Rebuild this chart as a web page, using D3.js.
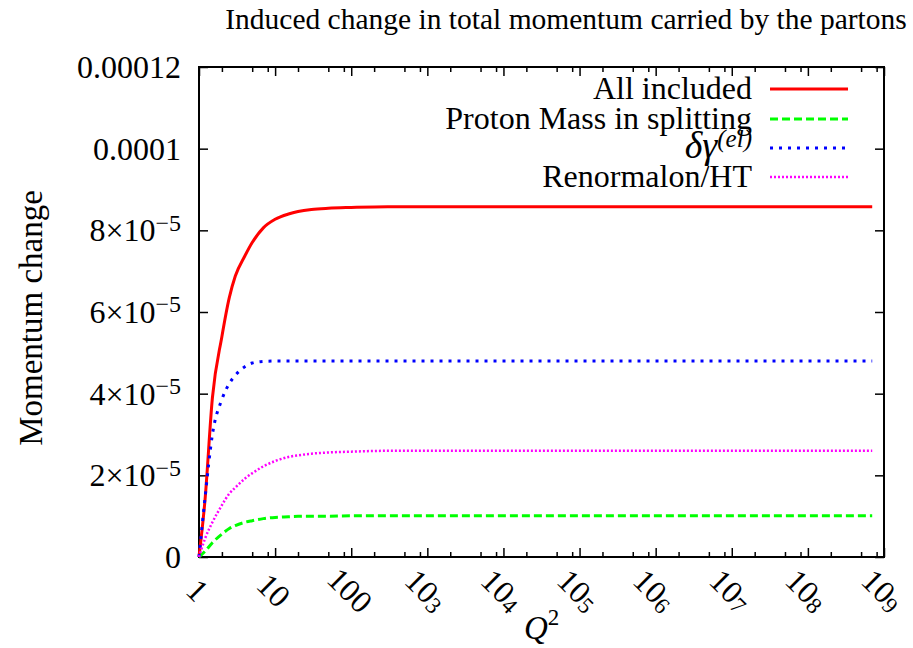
<!DOCTYPE html>
<html>
<head>
<meta charset="utf-8">
<script src="https://cdn.jsdelivr.net/npm/d3@7"></script>
<style>
  body { margin: 0; background: #fff; }
</style>
</head>
<body>
<svg id="chart"></svg>
<script>
// Q^2 grid the curves are read at
const q2 = [1, 1.2, 1.5, 2, 2.5, 3, 4, 5, 7, 10, 15, 20, 30, 50, 100, 300, 1e3, 1e4, 1e6, 1e8, 7e8];

// momentum change for each curve
const allIncluded = [0, 1.4e-5, 3.9e-5, 5.4e-5, 6.35e-5, 6.88e-5, 7.37e-5, 7.7e-5, 8.06e-5, 8.27e-5, 8.4e-5, 8.46e-5, 8.51e-5, 8.54e-5, 8.56e-5, 8.58e-5, 8.58e-5, 8.58e-5, 8.58e-5, 8.58e-5, 8.58e-5];
const protonMass = [0, 1.4e-6, 3.5e-6, 5.6e-6, 7.0e-6, 7.7e-6, 8.5e-6, 8.9e-6, 9.4e-6, 9.7e-6, 9.85e-6, 9.95e-6, 1.0e-5, 1.0e-5, 1.01e-5, 1.01e-5, 1.01e-5, 1.01e-5, 1.01e-5, 1.01e-5, 1.01e-5];
const deltaGamma = [0, 1.45e-5, 3.0e-5, 3.86e-5, 4.25e-5, 4.45e-5, 4.66e-5, 4.75e-5, 4.79e-5, 4.8e-5, 4.8e-5, 4.8e-5, 4.8e-5, 4.8e-5, 4.8e-5, 4.8e-5, 4.8e-5, 4.8e-5, 4.8e-5, 4.8e-5, 4.8e-5];
const renormalon = [0, 4.5e-6, 8.5e-6, 1.27e-5, 1.55e-5, 1.7e-5, 1.92e-5, 2.05e-5, 2.22e-5, 2.35e-5, 2.45e-5, 2.49e-5, 2.53e-5, 2.56e-5, 2.58e-5, 2.6e-5, 2.6e-5, 2.6e-5, 2.6e-5, 2.6e-5, 2.6e-5];

// ticks
const xTickVals = [1, 10, 100, 1e3, 1e4, 1e5, 1e6, 1e7, 1e8, 1e9];
const xTickBase = ["1", "10", "100", "10", "10", "10", "10", "10", "10", "10"];
const xTickPow = ["", "", "", "3", "4", "5", "6", "7", "8", "9"];
const xMinorMult = [2, 5, 8];
const yTickVals = [0, 2e-5, 4e-5, 6e-5, 8e-5, 1e-4, 1.2e-4];
const yTickBase = ["0", "2×10", "4×10", "6×10", "8×10", "0.0001", "0.00012"];
const yTickPow = ["", "−5", "−5", "−5", "−5", "", ""];

const W = 913, H = 648;
const pLeft = 199, pRight = 884, pTop = 67, pBottom = 557;
const FONT = "'Liberation Serif', 'DejaVu Serif', serif";

const svg = d3.select("#chart").attr("width", W).attr("height", H);

const x = d3.scaleLog().domain([1, 1e9]).range([pLeft, pRight]);
const y = d3.scaleLinear().domain([0, 1.2e-4]).range([pBottom, pTop]);

const xMinor = [];
xTickVals.slice(0, -1).forEach(v => xMinorMult.forEach(m => xMinor.push(v * m)));

function label(sel) {
  return sel.append("text").attr("font-family", FONT).attr("fill", "#000");
}

// ticks, all pointing inwards, mirrored on the opposite side
function ticks(axis, vals, size, tr) {
  const g = svg.append("g").attr("transform", tr)
    .call(axis.tickValues(vals).tickSize(size).tickFormat(""));
  g.select(".domain").remove();
  g.selectAll("line").attr("stroke", "#000").attr("stroke-width", 1.5);
}
ticks(d3.axisBottom(x), xTickVals, -9, `translate(0,${pBottom})`);
ticks(d3.axisBottom(x), xMinor, -5, `translate(0,${pBottom})`);
ticks(d3.axisTop(x), xTickVals, -9, `translate(0,${pTop})`);
ticks(d3.axisTop(x), xMinor, -5, `translate(0,${pTop})`);
ticks(d3.axisLeft(y), yTickVals, -9, `translate(${pLeft},0)`);
ticks(d3.axisRight(y), yTickVals, -9, `translate(${pRight},0)`);

// frame
svg.append("rect")
  .attr("x", pLeft).attr("y", pTop)
  .attr("width", pRight - pLeft).attr("height", pBottom - pTop)
  .attr("fill", "none").attr("stroke", "#000").attr("stroke-width", 2);

// y tick labels
yTickVals.forEach((v, i) => {
  const t = label(svg)
    .attr("x", 181).attr("y", y(v) + 11)
    .attr("text-anchor", "end")
    .attr("font-size", 32)
    .text(yTickBase[i]);
  if (yTickPow[i]) {
    t.append("tspan").attr("dy", "-0.45em").attr("font-size", 24).text(yTickPow[i]);
  }
});

// x tick labels, rotated
xTickVals.forEach((v, i) => {
  const t = label(svg)
    .attr("transform", `translate(${x(v) - 9},598) rotate(45)`)
    .attr("text-anchor", "middle")
    .attr("font-size", 32)
    .text(xTickBase[i]);
  if (xTickPow[i]) {
    t.append("tspan").attr("dy", "0.1em").attr("font-size", 23).text(xTickPow[i]);
  }
});

// curves
const series = [
  { name: "All included", vals: allIncluded, color: "#ff0000", width: 3, dash: null },
  { name: "Proton Mass in splitting", vals: protonMass, color: "#00ff00", width: 3, dash: "8,4" },
  { name: "delta", vals: deltaGamma, color: "#0000ff", width: 3, dash: "3,6" },
  { name: "Renormalon/HT", vals: renormalon, color: "#ff00ff", width: 2.5, dash: "2,2" }
];

const line = d3.line()
  .x((d, i) => x(q2[i]))
  .y(d => y(d))
  .curve(d3.curveMonotoneX);

series.forEach(s => {
  svg.append("path")
    .attr("d", line(s.vals))
    .attr("fill", "none")
    .attr("stroke", s.color)
    .attr("stroke-width", s.width)
    .attr("stroke-dasharray", s.dash);
});

// legend
const legY = [89, 119, 148, 177];
series.forEach((s, i) => {
  svg.append("line")
    .attr("x1", 770).attr("x2", 848)
    .attr("y1", legY[i]).attr("y2", legY[i])
    .attr("stroke", s.color)
    .attr("stroke-width", s.width)
    .attr("stroke-dasharray", s.dash);
  const t = label(svg)
    .attr("x", 752).attr("y", legY[i] + 10)
    .attr("text-anchor", "end")
    .attr("font-size", 32);
  if (s.name === "delta") {
    t.append("tspan").attr("font-style", "italic").attr("font-size", 38).text("δγ");
    t.append("tspan").attr("font-style", "italic").attr("font-size", 25).attr("dy", "-0.45em").text("(el)");
  } else {
    t.text(s.name);
  }
});

// title and axis labels
label(svg)
  .attr("x", 566).attr("y", 29)
  .attr("text-anchor", "middle")
  .attr("font-size", 29.5)
  .text("Induced change in total momentum carried by the partons");

label(svg)
  .attr("transform", "translate(42,318) rotate(-90)")
  .attr("text-anchor", "middle")
  .attr("font-size", 33)
  .text("Momentum change");

const xl = label(svg)
  .attr("x", 524).attr("y", 639)
  .attr("font-size", 33);
xl.append("tspan").attr("font-style", "italic").text("Q");
xl.append("tspan").attr("font-size", 23).attr("dy", "-0.6em").text("2");
</script>
</body>
</html>
